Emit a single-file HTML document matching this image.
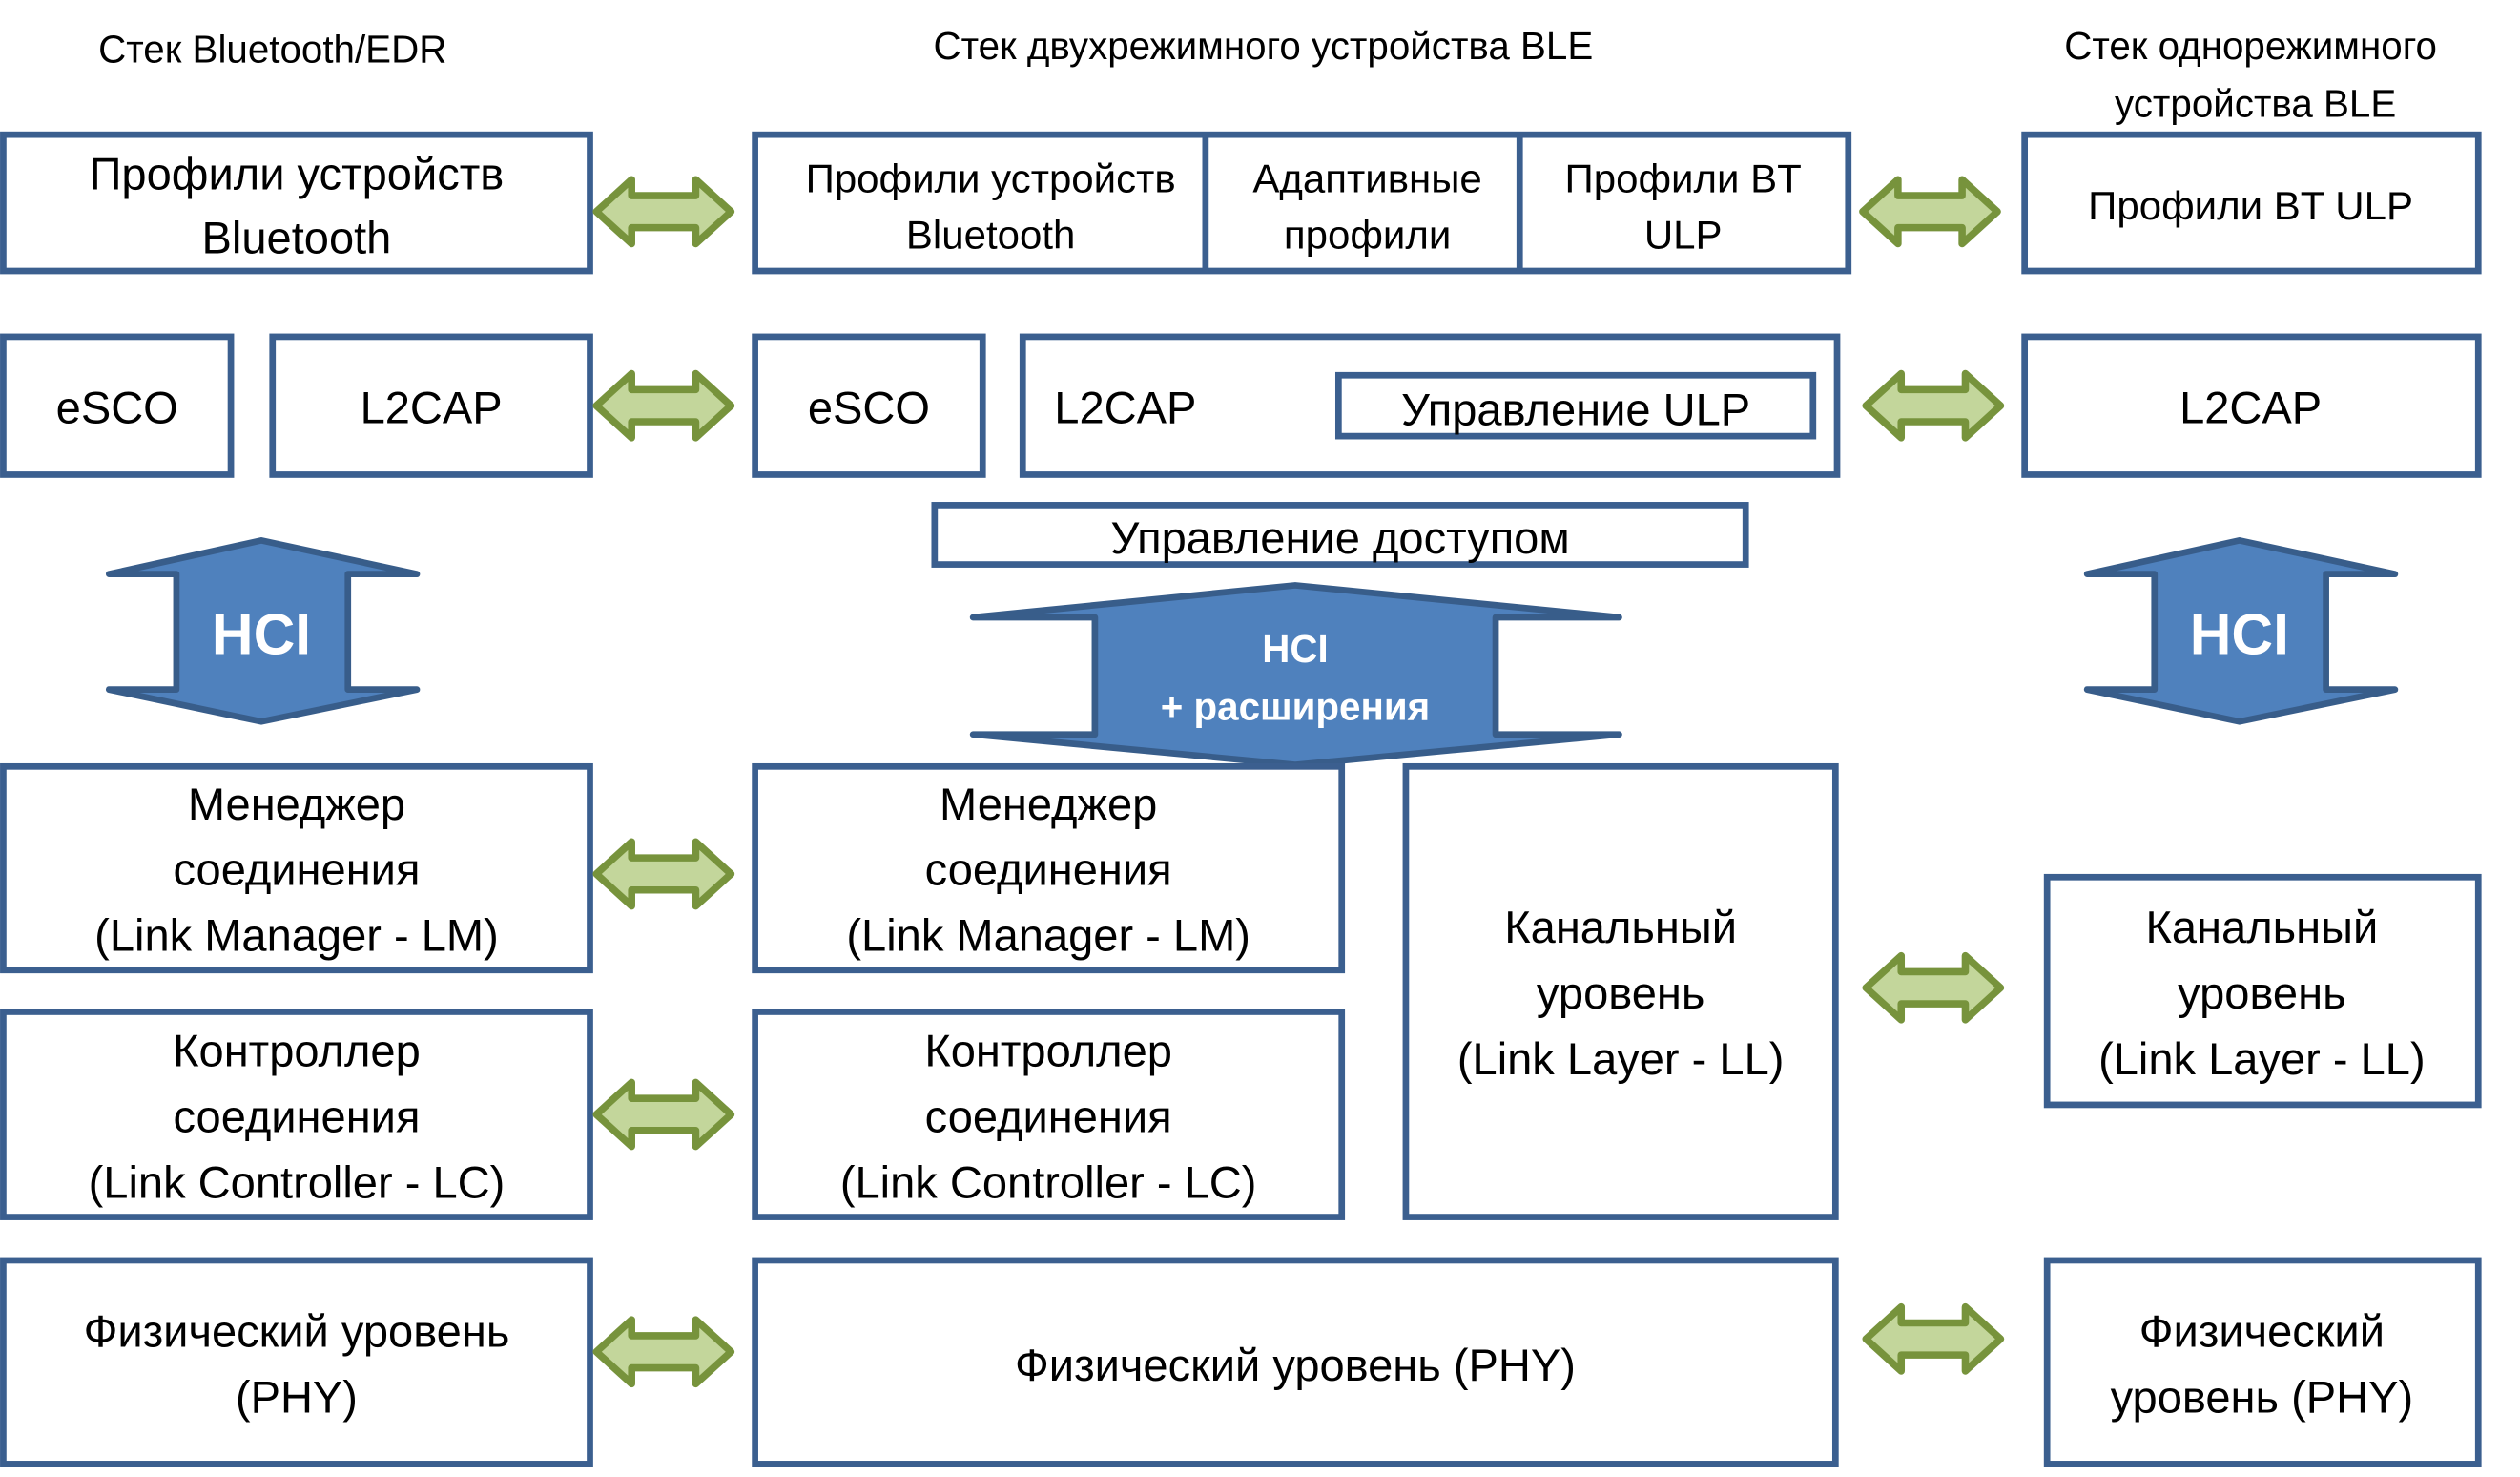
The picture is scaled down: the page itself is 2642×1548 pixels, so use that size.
<!DOCTYPE html>
<html><head><meta charset="utf-8"><style>
html,body{margin:0;padding:0;background:#fff;}
svg{display:block}
text{font-family:"Liberation Sans","DejaVu Sans",sans-serif;fill:#000;text-anchor:middle}
.b{fill:#fff;stroke:#3b5f8f;stroke-width:4}
.g{fill:#c3d69b;stroke:#77933c;stroke-width:4.5;stroke-linejoin:round}
.h{fill:#4f81bd;stroke:#385d8a;stroke-width:4;stroke-linejoin:round}
.t{font-size:28px}
.s{font-size:24px}
</style></head><body>
<svg width="2642" height="1548" viewBox="0 0 1572 921.1" xmlns="http://www.w3.org/2000/svg">
<defs>
<symbol id="ar" viewBox="0 0 88 44" overflow="visible">
<path class="g" d="M2 22 L24 2 L24 12 L64 12 L64 2 L86 22 L64 42 L64 32 L24 32 L24 42 Z"/>
</symbol>
</defs>
<text class="s" x="170" y="39">Стек Bluetooth/EDR</text>
<text class="s" x="788" y="37">Стек двухрежимного устройства BLE</text>
<text class="s" x="1404" y="37">Стек однорежимного</text>
<text class="s" x="1407" y="73">устройства BLE</text>

<rect class="b" x="2" y="84" width="366" height="85"/>
<text class="t" x="185" y="118">Профили устройств</text>
<text class="t" x="185" y="158">Bluetooth</text>
<rect class="b" x="471" y="84" width="682" height="85"/>
<line x1="752" y1="84" x2="752" y2="169" stroke="#3b5f8f" stroke-width="4"/>
<line x1="948" y1="84" x2="948" y2="169" stroke="#3b5f8f" stroke-width="4"/>
<text class="s" x="618" y="120" style="font-size:25px">Профили устройств</text>
<text class="s" x="618" y="155" style="font-size:25px">Bluetooth</text>
<text class="s" x="853" y="120" style="font-size:25px">Адаптивные</text>
<text class="s" x="853" y="155" style="font-size:25px">профили</text>
<text class="s" x="1050" y="120" style="font-size:25px">Профили BT</text>
<text class="s" x="1050" y="155" style="font-size:25px">ULP</text>
<rect class="b" x="1263" y="84" width="283" height="85"/>
<text class="s" x="1404" y="137" style="font-size:25px">Профили BT ULP</text>

<rect class="b" x="2" y="210" width="142" height="86"/>
<text class="t" x="73" y="264">eSCO</text>
<rect class="b" x="170" y="210" width="198" height="86"/>
<text class="t" x="269" y="264">L2CAP</text>
<rect class="b" x="471" y="210" width="142" height="86"/>
<text class="t" x="542" y="264">eSCO</text>
<rect class="b" x="638" y="210" width="508" height="86"/>
<text class="t" x="702" y="264">L2CAP</text>
<rect class="b" x="835" y="234" width="296" height="38"/>
<text class="t" x="983" y="265">Управление ULP</text>
<rect class="b" x="1263" y="210" width="283" height="86"/>
<text class="t" x="1404" y="264">L2CAP</text>

<rect class="b" x="583" y="315" width="506" height="37"/>
<text class="t" x="836" y="345">Управление доступом</text>

<path class="h" d="M163 337 L260 358 L217 358 L217 430 L260 430 L163 450 L68 430 L110 430 L110 358 L68 358 Z"/>
<text x="163" y="408" style="font-size:36px;font-weight:bold;fill:#fff">HCI</text>
<path class="h" d="M1397 337 L1494 358 L1451 358 L1451 430 L1494 430 L1397 450 L1302 430 L1344 430 L1344 358 L1302 358 Z"/>
<text x="1397" y="408" style="font-size:36px;font-weight:bold;fill:#fff">HCI</text>
<path class="h" d="M808 365 L1010 385 L933 385 L933 458 L1010 458 L808 477 L607 458 L683 458 L683 385 L607 385 Z"/>
<text x="808" y="413" style="font-size:24px;font-weight:bold;fill:#fff">HCI</text>
<text x="808" y="449" style="font-size:24px;font-weight:bold;fill:#fff">+ расширения</text>

<rect class="b" x="2" y="478" width="366" height="127"/>
<text class="t" x="185" y="511">Менеджер</text>
<text class="t" x="185" y="552">соединения</text>
<text class="t" x="185" y="593">(Link Manager - LM)</text>
<rect class="b" x="471" y="478" width="366" height="127"/>
<text class="t" x="654" y="511">Менеджер</text>
<text class="t" x="654" y="552">соединения</text>
<text class="t" x="654" y="593">(Link Manager - LM)</text>
<rect class="b" x="877" y="478" width="268" height="281"/>
<text class="t" x="1011" y="588">Канальный</text>
<text class="t" x="1011" y="629">уровень</text>
<text class="t" x="1011" y="670">(Link Layer - LL)</text>
<rect class="b" x="2" y="631" width="366" height="128"/>
<text class="t" x="185" y="665">Контроллер</text>
<text class="t" x="185" y="706">соединения</text>
<text class="t" x="185" y="747">(Link Controller - LC)</text>
<rect class="b" x="471" y="631" width="366" height="128"/>
<text class="t" x="654" y="665">Контроллер</text>
<text class="t" x="654" y="706">соединения</text>
<text class="t" x="654" y="747">(Link Controller - LC)</text>
<rect class="b" x="1277" y="547" width="269" height="142"/>
<text class="t" x="1411" y="588">Канальный</text>
<text class="t" x="1411" y="629">уровень</text>
<text class="t" x="1411" y="670">(Link Layer - LL)</text>

<rect class="b" x="2" y="786" width="366" height="127"/>
<text class="t" x="185" y="840">Физический уровень</text>
<text class="t" x="185" y="881">(PHY)</text>
<rect class="b" x="471" y="786" width="674" height="127"/>
<text class="t" x="808" y="861">Физический уровень (PHY)</text>
<rect class="b" x="1277" y="786" width="269" height="127"/>
<text class="t" x="1411" y="840">Физический</text>
<text class="t" x="1411" y="881">уровень (PHY)</text>

<use href="#ar" x="370" y="110" width="88" height="44"/>
<use href="#ar" x="370" y="231" width="88" height="44"/>
<use href="#ar" x="370" y="523" width="88" height="44"/>
<use href="#ar" x="370" y="673" width="88" height="44"/>
<use href="#ar" x="370" y="821" width="88" height="44"/>
<use href="#ar" x="1160" y="110" width="88" height="44"/>
<use href="#ar" x="1162" y="231" width="88" height="44"/>
<use href="#ar" x="1162" y="594" width="88" height="44"/>
<use href="#ar" x="1162" y="813" width="88" height="44"/>
</svg>
</body></html>
